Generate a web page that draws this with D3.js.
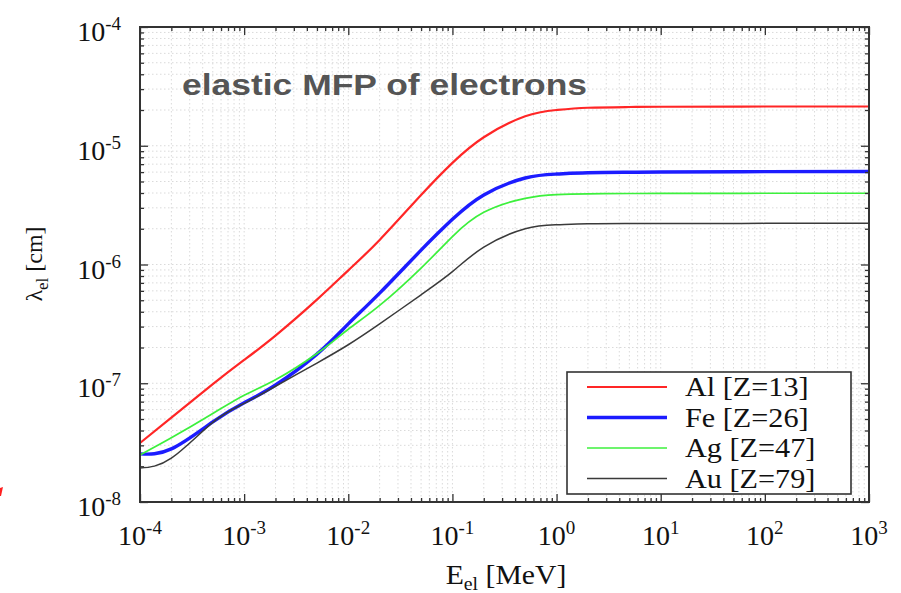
<!DOCTYPE html>
<html>
<head>
<meta charset="utf-8">
<script src="https://cdn.jsdelivr.net/npm/d3@7"></script>
<style>
  html, body { margin: 0; padding: 0; background: #fff; }
  svg { display: block; }
</style>
</head>
<body>
<svg id="chart" width="901" height="593"></svg>
<script>
// ---- data ----
const energies = [1e-4, 2e-4, 5e-4, 1e-3, 2e-3, 5e-3, 1e-2, 2e-2, 5e-2, 1e-1, 2e-1, 5e-1, 1, 2, 5, 10, 100, 1000];
const lambdaAl = [3.14e-8, 5.13e-8, 9.82e-8, 1.57e-7, 2.52e-7, 5.06e-7, 8.93e-7, 1.61e-6, 3.85e-6, 7.18e-6, 1.18e-5, 1.77e-5, 2.00e-5, 2.09e-5, 2.12e-5, 2.13e-5, 2.14e-5, 2.14e-5];
const lambdaFe = [2.54e-8, 2.80e-8, 4.73e-8, 6.84e-8, 9.66e-8, 1.76e-7, 3.16e-7, 5.74e-7, 1.32e-6, 2.40e-6, 3.85e-6, 5.35e-6, 5.78e-6, 5.92e-6, 5.98e-6, 6.01e-6, 6.05e-6, 6.07e-6];
const lambdaAg = [2.49e-8, 3.47e-8, 5.56e-8, 7.94e-8, 1.07e-7, 1.78e-7, 2.85e-7, 4.52e-7, 9.33e-7, 1.72e-6, 2.75e-6, 3.61e-6, 3.88e-6, 3.94e-6, 3.96e-6, 3.97e-6, 3.98e-6, 3.98e-6];
const lambdaAu = [1.93e-8, 2.34e-8, 4.68e-8, 6.76e-8, 9.44e-8, 1.48e-7, 2.11e-7, 3.16e-7, 5.56e-7, 8.71e-7, 1.40e-6, 2.00e-6, 2.16e-6, 2.20e-6, 2.21e-6, 2.21e-6, 2.22e-6, 2.22e-6];
const seriesNames = ["Al [Z=13]", "Fe [Z=26]", "Ag [Z=47]", "Au [Z=79]"];
const xTickExponents = [-4, -3, -2, -1, 0, 1, 2, 3];
const yTickExponents = [-8, -7, -6, -5, -4];
const titleText = "elastic MFP of electrons";

// ---- layout ----
const svg = d3.select("#chart");
const L = 140, R = 869, T = 27, B = 502;
const x = d3.scaleLog().domain([1e-4, 1e3]).range([L, R]);
const y = d3.scaleLog().domain([1e-8, 1e-4]).range([B, T]);

const styles = [
  { color: "#ff2626", width: 2.2 },
  { color: "#1c1cff", width: 3.4 },
  { color: "#3cf03c", width: 1.7 },
  { color: "#3a3a3a", width: 1.5 }
];
const series = [lambdaAl, lambdaFe, lambdaAg, lambdaAu];

const xMajor = xTickExponents.map(e => Math.pow(10, e));
const yMajor = yTickExponents.map(e => Math.pow(10, e));
const xMinor = [], yMinor = [];
xTickExponents.slice(0, -1).forEach(e => { for (let k = 2; k <= 9; k++) xMinor.push(k * Math.pow(10, e)); });
yTickExponents.slice(0, -1).forEach(e => { for (let k = 2; k <= 9; k++) yMinor.push(k * Math.pow(10, e)); });

// ---- grid ----
const grid = svg.append("g").attr("stroke", "#dadada").attr("stroke-width", 1).attr("stroke-dasharray", "1.5,2.5");
grid.selectAll(".gx").data(xMinor.concat(xMajor.slice(1, -1))).enter().append("line")
  .attr("x1", d => x(d)).attr("x2", d => x(d)).attr("y1", T).attr("y2", B);
grid.selectAll(".gy").data(yMinor.concat(yMajor.slice(1, -1))).enter().append("line")
  .attr("y1", d => y(d)).attr("y2", d => y(d)).attr("x1", L).attr("x2", R);

// ---- title ----
svg.append("text").attr("x", 182).attr("y", 95)
  .attr("font-family", "'Liberation Sans', Arial, sans-serif").attr("font-weight", "bold")
  .attr("font-size", 29).attr("fill", "#555")
  .attr("textLength", 405).attr("lengthAdjust", "spacingAndGlyphs").text(titleText);

// ---- curves (smooth spline through the read points) ----
const line = d3.line().x(d => x(d[0])).y(d => y(d[1])).curve(d3.curveNatural);
series.forEach((vals, i) => {
  svg.append("path")
    .datum(energies.map((e, j) => [e, vals[j]]))
    .attr("fill", "none").attr("stroke", styles[i].color).attr("stroke-width", styles[i].width)
    .attr("stroke-linejoin", "round").attr("d", line);
});

// ---- axes with inward ticks ----
function styleAxis(g) {
  g.select(".domain").remove();
  g.selectAll(".tick line").attr("stroke", "#333").attr("stroke-width", 1.3);
  g.selectAll(".tick text").remove();
}
svg.append("g").attr("transform", `translate(0,${B})`).call(d3.axisBottom(x).tickValues(xMajor).tickSize(-8)).call(styleAxis);
svg.append("g").attr("transform", `translate(0,${B})`).call(d3.axisBottom(x).tickValues(xMinor).tickSize(-4)).call(styleAxis);
svg.append("g").attr("transform", `translate(0,${T})`).call(d3.axisTop(x).tickValues(xMajor).tickSize(-8)).call(styleAxis);
svg.append("g").attr("transform", `translate(0,${T})`).call(d3.axisTop(x).tickValues(xMinor).tickSize(-4)).call(styleAxis);
svg.append("g").attr("transform", `translate(${L},0)`).call(d3.axisLeft(y).tickValues(yMajor).tickSize(-8)).call(styleAxis);
svg.append("g").attr("transform", `translate(${L},0)`).call(d3.axisLeft(y).tickValues(yMinor).tickSize(-4)).call(styleAxis);
svg.append("g").attr("transform", `translate(${R},0)`).call(d3.axisRight(y).tickValues(yMajor).tickSize(-8)).call(styleAxis);
svg.append("g").attr("transform", `translate(${R},0)`).call(d3.axisRight(y).tickValues(yMinor).tickSize(-4)).call(styleAxis);

svg.append("rect").attr("x", L).attr("y", T).attr("width", R - L).attr("height", B - T)
  .attr("fill", "none").attr("stroke", "#333").attr("stroke-width", 2);

// ---- tick labels ----
const serif = "'Liberation Serif', 'Times New Roman', serif";
function powLabel(sel, exp) {
  sel.append("tspan").text("10");
  sel.append("tspan").attr("font-size", 19).attr("dy", -11).text(String(exp));
}
xTickExponents.forEach(e => {
  const t = svg.append("text").attr("x", x(Math.pow(10, e))).attr("y", 545)
    .attr("font-family", serif).attr("font-size", 28).attr("fill", "#111").attr("text-anchor", "middle");
  powLabel(t, e);
});
yTickExponents.forEach(e => {
  const t = svg.append("text").attr("x", 121).attr("y", y(Math.pow(10, e)) + 14)
    .attr("font-family", serif).attr("font-size", 28).attr("fill", "#111").attr("text-anchor", "end");
  powLabel(t, e);
});

// ---- axis titles ----
const xt = svg.append("text").attr("transform", "translate(506,584) scale(1.1,1)").attr("text-anchor", "middle")
  .attr("font-family", serif).attr("font-size", 27).attr("fill", "#111");
xt.append("tspan").text("E");
xt.append("tspan").attr("font-size", 18).attr("dy", 6).text("el");
xt.append("tspan").attr("dy", -6).text(" [MeV]");

const yt = svg.append("text").attr("transform", "translate(42,264) rotate(-90)").attr("text-anchor", "middle")
  .attr("font-family", serif).attr("font-size", 24).attr("fill", "#111");
yt.append("tspan").text("λ");
yt.append("tspan").attr("font-size", 17).attr("dy", 6).text("el");
yt.append("tspan").attr("dy", -6).text(" [cm]");

// ---- legend ----
const lg = svg.append("g");
lg.append("rect").attr("x", 567).attr("y", 372).attr("width", 284).attr("height", 122)
  .attr("fill", "#fff").attr("stroke", "#333").attr("stroke-width", 1.6);
seriesNames.forEach((name, i) => {
  const yy = 387 + i * 30.5;
  lg.append("line").attr("x1", 587).attr("x2", 667).attr("y1", yy).attr("y2", yy)
    .attr("stroke", styles[i].color).attr("stroke-width", styles[i].width);
  lg.append("text").attr("transform", `translate(685,${yy + 9}) scale(1.12,1)`).attr("font-family", serif)
    .attr("font-size", 27).attr("fill", "#111").text(name);
});

// small red mark at the left edge of the reference
svg.append("path").attr("d", "M0,488 L3,487 L1,496 L0,496 Z").attr("fill", "#ff2020");
</script>
</body>
</html>
